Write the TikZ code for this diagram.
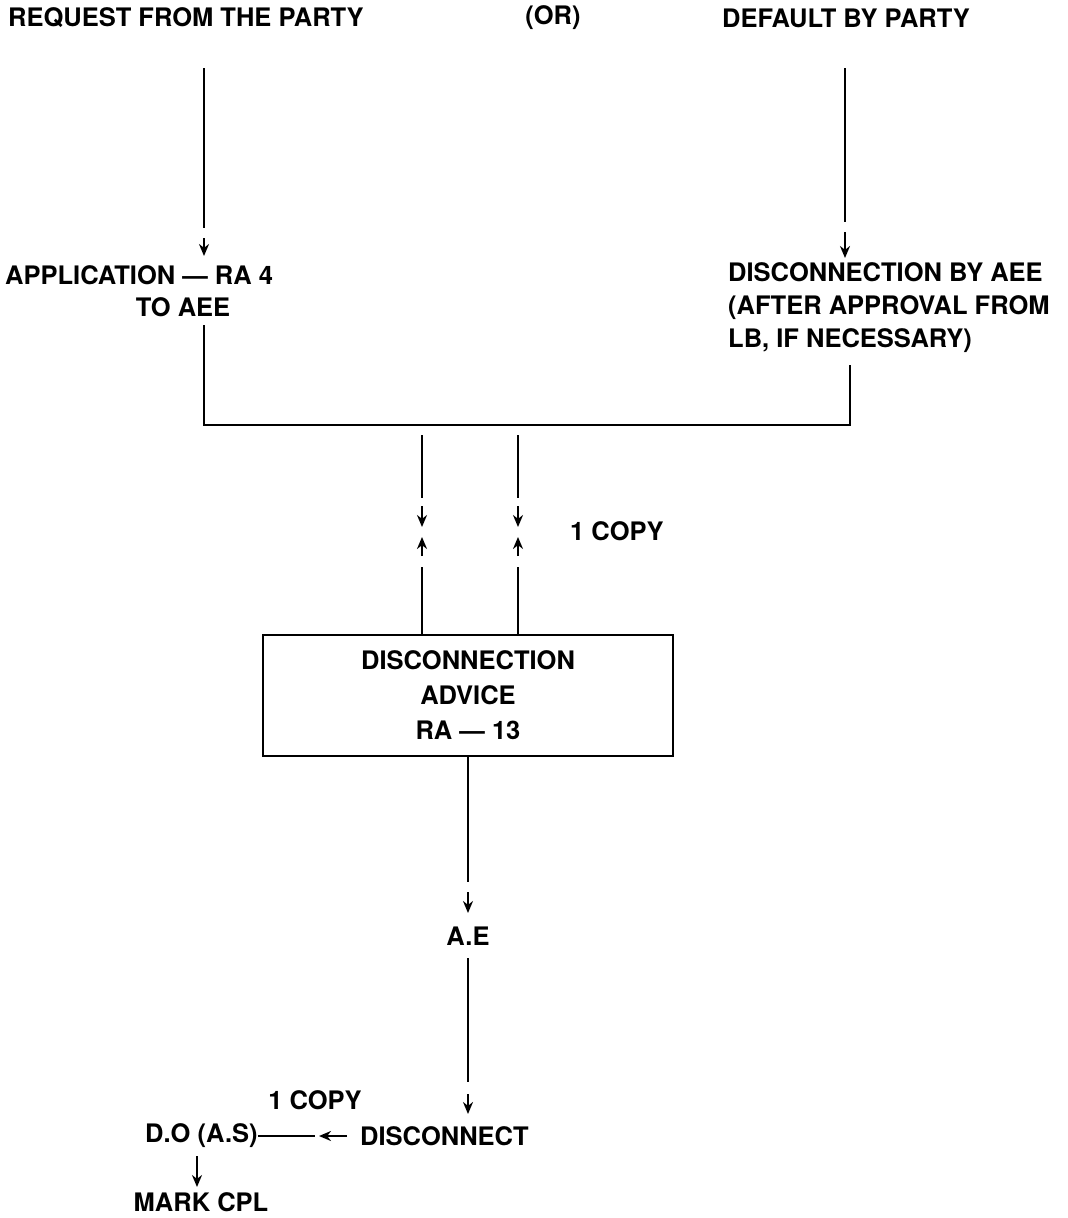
\documentclass[tikz,border=0pt]{standalone}
\usepackage{fontspec}
\setmainfont{TeX Gyre Heros}
\usetikzlibrary{arrows.meta}
\begin{document}
\begin{tikzpicture}[x=1pt,y=-1pt,
  lbl/.style={font=\bfseries\fontsize{25.5}{33}\selectfont, inner sep=0pt, align=left},
  conn/.style={line width=2.4pt},
  arr/.style={line width=2.4pt, -{Stealth[length=12pt,width=10pt]}},
  boxnode/.style={draw, line width=2.4pt, minimum width=410pt, minimum height=121pt,
     font=\bfseries\fontsize{25.5}{35}\selectfont, align=center, inner sep=0pt}
]
\useasboundingbox (0,0) rectangle (1068,1218);
\fill[white] (0,0) rectangle (1068,1218);

% top labels
\node[lbl, anchor=west] (req) at (8,18) {REQUEST FROM THE PARTY};
\node[lbl] (or) at (553,18) {(OR)};
\node[lbl, anchor=west] (def) at (722,18) {DEFAULT BY PARTY};

% second row
\node[lbl, anchor=west] (app) at (5,275) {APPLICATION --- RA 4};
\node[lbl] (appb) at (183,307) {TO AEE};
\node[lbl, anchor=north west] (dis) at (728,262) {DISCONNECTION BY AEE\\(AFTER APPROVAL FROM\\LB, IF NECESSARY)};

% coordinates
\coordinate (reqb) at (204,68);
\coordinate (appt) at (204,256);
\coordinate (defb) at (845,68);
\coordinate (dist) at (845,258);
\coordinate (appbb) at (204,325);
\coordinate (disb) at (850,365);
\coordinate (barL) at (204,425);
\coordinate (barR) at (850,425);

\draw[arr] (reqb) -- (204,228) (204,238) -- (appt);
\draw[arr] (defb) -- (845,222) (845,232) -- (dist);
\draw[conn] (appbb) -- (barL) -- (barR) -- (disb);

% box
\node[boxnode] (adv) at (468,695.5) {DISCONNECTION\\ADVICE\\RA --- 13};

% double arrows
\coordinate (t1) at (422,435);
\coordinate (m1a) at (422,527);
\coordinate (m1b) at (422,537);
\coordinate (t2) at (518,435);
\coordinate (m2a) at (518,527);
\coordinate (m2b) at (518,537);
\draw[arr] (t1) -- (422,498) (422,506) -- (m1a);
\draw[arr] (adv.north -| t1) -- (422,567) (422,556) -- (m1b);
\draw[arr] (t2) -- (518,498) (518,506) -- (m2a);
\draw[arr] (adv.north -| t2) -- (518,567) (518,556) -- (m2b);
\node[lbl, anchor=west] (copy1) at (570,531) {1 COPY};

% lower chain
\node[lbl] (ae) at (468,936) {A.E};
\draw[arr] (adv.south -| ae) -- (468,882) (468,892) -- (468,913);
\node[lbl, anchor=west] (disc) at (360,1136) {DISCONNECT};
\draw[arr] (468,958) -- (468,1082) (468,1094) -- (468,1114);
\node[lbl, anchor=west] (do) at (145,1136) {D.O (A.S)};
\node[lbl] (cpy2) at (315,1100) {1 COPY};
\draw[arr] (do.east) -- (315,1136) (347,1136) -- (319,1136);
\node[lbl] (mark) at (201,1202) {MARK CPL};
\draw[arr] (197,1156) -- (197,1187);
\end{tikzpicture}
\end{document}
